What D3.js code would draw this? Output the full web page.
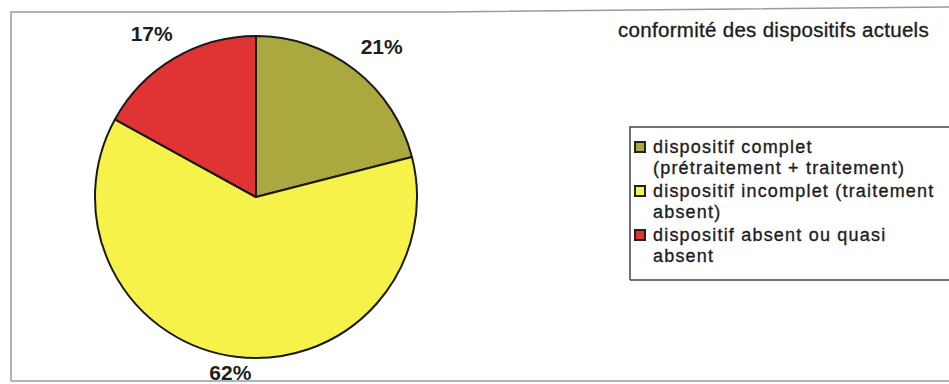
<!DOCTYPE html>
<html lang="fr">
<head>
  <meta charset="UTF-8">
  <title>conformité des dispositifs actuels</title>
  <script src="https://d3js.org/d3.v7.min.js"></script>
  <style>
    body { margin: 0; background: #fff; }
    svg { display: block; }
    text { font-family: "Liberation Sans", Arial, sans-serif; fill: #1e1e1e; }
  </style>
</head>
<body>
  <script>
    const categories = [
      "dispositif complet (prétraitement + traitement)",
      "dispositif incomplet (traitement absent)",
      "dispositif absent ou quasi absent"
    ];
    const legendLines = [
      ["dispositif complet", "(prétraitement + traitement)"],
      ["dispositif incomplet (traitement", "absent)"],
      ["dispositif absent ou quasi", "absent"]
    ];
    const values = [21, 62, 17];
    const colors = ["#aaa83e", "#f7f24a", "#e03434"];
    const title = "conformité des dispositifs actuels";

    const width = 949, height = 384;
    const cx = 256, cy = 197, radius = 161;

    const svg = d3.select("body")
      .append("svg")
      .attr("width", width)
      .attr("height", height)
      .attr("viewBox", [0, 0, width, height]);

    // cadre (légèrement de travers comme sur le scan)
    const frame = svg.append("g")
      .attr("stroke", "#9a9a9a")
      .attr("stroke-width", 1.5)
      .attr("fill", "none");
    frame.append("path").attr("d", "M11,381 L11,12 L440,12 L949,7");
    frame.append("line").attr("x1", 11).attr("y1", 381).attr("x2", 949).attr("y2", 381);

    const pie = d3.pie().sort(null).value(d => d)(values);
    const arc = d3.arc().innerRadius(0).outerRadius(radius);

    const g = svg.append("g").attr("transform", `translate(${cx},${cy})`);

    g.selectAll("path")
      .data(pie)
      .join("path")
      .attr("d", arc)
      .attr("fill", (d, i) => colors[i])
      .attr("stroke", "#1a1a1a")
      .attr("stroke-width", 2)
      .attr("stroke-linejoin", "round");

    // étiquettes de pourcentage à l'extérieur
    const labelRx = 205, labelRy = 190;
    g.selectAll("text.pct")
      .data(pie)
      .join("text")
      .attr("class", "pct")
      .attr("text-anchor", "middle")
      .attr("font-size", 21)
      .attr("font-weight", "bold")
      .attr("x", d => Math.sin((d.startAngle + d.endAngle) / 2) * labelRx)
      .attr("y", d => {
        const yc = -Math.cos((d.startAngle + d.endAngle) / 2) * labelRy;
        return Math.min(yc, height - cy - 12) + 7.5;
      })
      .text(d => d.data + "%");

    // titre
    svg.append("text")
      .attr("x", 618)
      .attr("y", 37)
      .attr("font-size", 20.5)
      .attr("letter-spacing", 0.3)
      .attr("stroke", "#1e1e1e")
      .attr("stroke-width", 0.35)
      .text(title);

    // légende
    const legend = svg.append("g").attr("transform", "translate(630,127)");
    legend.append("path")
      .attr("d", "M0,153 L0,0 L330,0 M0,153 L330,153")
      .attr("fill", "none")
      .attr("stroke", "#444")
      .attr("stroke-width", 1.5);

    const item = legend.selectAll("g.item")
      .data(legendLines)
      .join("g")
      .attr("class", "item")
      .attr("transform", (d, i) => `translate(0,${20 + i * 44})`);

    item.append("rect")
      .attr("x", 5)
      .attr("y", -5)
      .attr("width", 10)
      .attr("height", 10)
      .attr("fill", (d, i) => colors[i])
      .attr("stroke", "#222")
      .attr("stroke-width", 2);

    item.append("text")
      .attr("x", 23)
      .attr("y", 6)
      .attr("font-size", 18)
      .attr("letter-spacing", 1.2)
      .attr("stroke", "#1e1e1e")
      .attr("stroke-width", 0.35)
      .selectAll("tspan")
      .data(d => d)
      .join("tspan")
      .attr("x", 23)
      .attr("dy", (d, j) => j === 0 ? 0 : 21)
      .text(d => d);
  </script>
</body>
</html>
